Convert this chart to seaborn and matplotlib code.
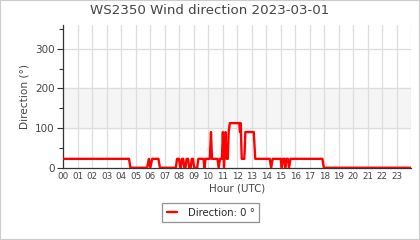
import matplotlib
matplotlib.use("Agg")
import matplotlib.pyplot as plt
import seaborn as sns
import pandas as pd
from matplotlib.ticker import MultipleLocator
from matplotlib.patches import Rectangle

title = "WS2350 Wind direction 2023-03-01"
series_name = "Direction: 0 °"
x_label = "Hour (UTC)"
y_label = "Direction (°)"
hour_labels = [f"{h:02d}" for h in range(24)]

hours = [0.0, 4.55, 4.65, 5.8, 5.92, 6.02, 6.15, 6.58, 6.68,
         7.78, 7.86, 8.0, 8.08, 8.12, 8.2, 8.28, 8.36,
         8.44, 8.52, 8.62, 8.7, 8.8, 8.88, 8.96, 9.04,
         9.25, 9.33, 9.68, 9.75, 9.83, 9.92, 10.12, 10.2, 10.27,
         10.65, 10.73, 10.82, 10.95, 11.02, 11.1, 11.2, 11.28, 11.36,
         11.42, 11.5, 12.15, 12.2, 12.25, 12.32, 12.5, 12.57, 13.15, 13.25,
         14.25, 14.35, 14.45, 15.0, 15.08, 15.15, 15.25, 15.32, 15.4,
         15.5, 15.58, 15.68, 17.88, 17.98, 23.95]
direction = [22.5, 22.5, 0, 0, 22.5, 0, 22.5, 22.5, 0,
             0, 22.5, 22.5, 0, 0, 22.5, 22.5, 0,
             0, 22.5, 22.5, 0, 0, 22.5, 22.5, 0,
             0, 22.5, 22.5, 0, 22.5, 22.5, 22.5, 90, 22.5,
             22.5, 0, 22.5, 22.5, 90, 0, 90, 22.5, 22.5,
             90, 112.5, 112.5, 90, 112.5, 22.5, 22.5, 90, 90, 22.5,
             22.5, 0, 22.5, 22.5, 0, 22.5, 22.5, 0, 22.5,
             22.5, 0, 22.5, 22.5, 0, 0]

df = pd.DataFrame({"hour": hours, "direction": direction})

sns.set_style("white")
plt.rcParams['font.family'] = ['DejaVu Sans']

fig = plt.figure(figsize=(4.2, 2.4), dpi=100)
ax = fig.add_axes([0.150, 0.301, 0.829, 0.595])

ax.axhspan(100, 200, color="#f5f5f5", zorder=0)
for h in range(25):
    ax.axvline(h, color="#dddddd", lw=0.9, zorder=1)
for yv in (100, 200, 300):
    ax.axhline(yv, color="#dddddd", lw=0.9, zorder=1)

sns.lineplot(data=df, x="hour", y="direction", ax=ax, color="#ff0000",
             lw=1.7, label=series_name, zorder=3, legend=False)

ax.set_xlim(0, 24)
ax.set_ylim(0, 360)
ax.set_xticks(range(24))
ax.set_xticklabels(hour_labels, fontsize=6.3, color="#444444")
ax.yaxis.set_major_locator(MultipleLocator(100))
ax.yaxis.set_minor_locator(MultipleLocator(50))
ax.tick_params(axis="y", which="major", length=4, width=0.8, color="#333333",
               labelsize=7.5, labelcolor="#444444", pad=2, left=True)
ax.tick_params(axis="y", which="minor", length=3, width=0.8, color="#333333", left=True)
ax.tick_params(axis="x", length=0, pad=3)

for s in ("top", "right"):
    ax.spines[s].set_visible(False)
ax.spines["left"].set_color("#333333")
ax.spines["bottom"].set_color("#333333")
ax.spines["left"].set_linewidth(0.9)
ax.spines["bottom"].set_linewidth(0.9)

ax.set_xlabel(x_label, fontsize=7.4, color="#444444", labelpad=2)
ax.set_ylabel(y_label, fontsize=7.6, color="#444444", labelpad=4)
fig.suptitle(title, x=0.5, y=0.985, fontsize=9.6, color="#444444", va="top")

handles, labels = ax.get_lines()[-1:], [series_name]
leg = fig.legend(handles, labels, loc="center", bbox_to_anchor=(0.502, 0.113),
                 fontsize=7.3, frameon=True, fancybox=False, handlelength=0.95,
                 handletextpad=1.1, borderpad=0.45, borderaxespad=0)
leg.get_frame().set_edgecolor("#777777")
leg.get_frame().set_linewidth(0.9)

fig.patches.append(Rectangle((0, 0), 1, 1, transform=fig.transFigure,
                             fill=False, edgecolor="#cccccc", lw=1.5))

fig.savefig("out.png", dpi=100)
